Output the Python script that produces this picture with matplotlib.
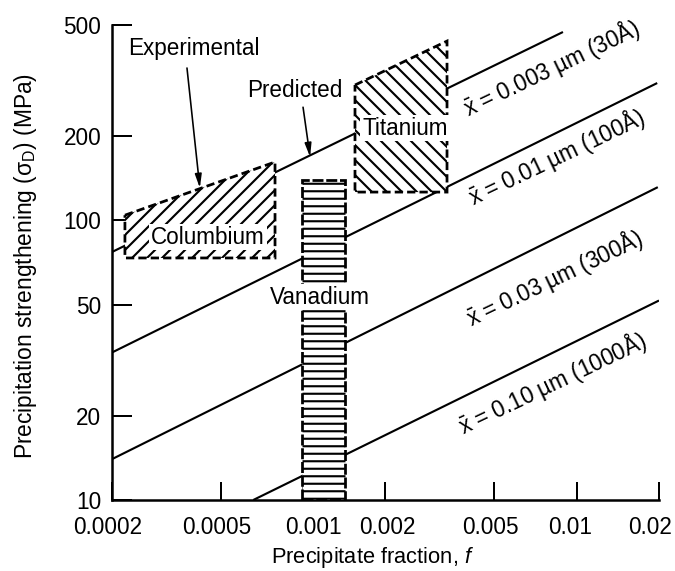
import matplotlib
matplotlib.use('Agg')
import matplotlib.pyplot as plt
from matplotlib.patches import Polygon, Rectangle
from matplotlib.transforms import ScaledTranslation

plt.rcParams['font.family'] = ['Liberation Sans', 'DejaVu Sans']
plt.rcParams['mathtext.fontset'] = 'custom'
plt.rcParams['mathtext.rm'] = 'Liberation Sans'
plt.rcParams['mathtext.it'] = 'Liberation Sans:italic'
plt.rcParams['hatch.linewidth'] = 1.7

# predicted lines (f, MPa)
spacing_labels = ['0.003 µm (30Å)', '0.01 µm (100Å)', '0.03 µm (300Å)', '0.10 µm (1000Å)']
f_start = [0.0002, 0.0002, 0.0002, 0.000657]
s_start = [77.1, 33.7, 14.0, 10.0]
f_end = [0.00891, 0.0197, 0.0198, 0.02]
s_end = [472.0, 310.0, 131.5, 51.7]
label_f = [0.00812, 0.00847, 0.00833, 0.00812]
label_s = [350.8, 168.6, 62.2, 26.2]

# experimental regions
columbium_f = [0.000223, 0.000789, 0.000789, 0.000223]
columbium_s = [104.4, 161.8, 73.4, 73.4]
titanium_f = [0.001547, 0.003357, 0.003357, 0.001547]
titanium_s = [305.0, 438.0, 126.3, 126.3]
vanadium_f = [0.00099, 0.001422]
vanadium_s = [10.0, 139.5]

x_ticks = [0.0002, 0.0005, 0.001, 0.002, 0.005, 0.01, 0.02]
x_tick_labels = ['0.0002', '0.0005', '0.001', '0.002', '0.005', '0.01', '0.02']
y_ticks = [10, 20, 50, 100, 200, 500]
y_tick_labels = ['10', '20', '50', '100', '200', '500']

fig = plt.figure(figsize=(7.5, 571 / 90), dpi=90)
ax = fig.add_axes([112 / 675, 1 - 500 / 571, 547 / 675, 475 / 571])
ax.set_xscale('log')
ax.set_yscale('log')
ax.set_xlim(0.0002, 0.02)
ax.set_ylim(10, 500)

for i in range(len(spacing_labels)):
    ax.plot([f_start[i], f_end[i]], [s_start[i], s_end[i]], 'k-', linewidth=1.7,
            zorder=2, solid_capstyle='butt')
    ax.text(label_f[i], label_s[i], r'$\bar{\mathrm{x}}$ = ' + spacing_labels[i],
            fontsize=18, rotation=25.5, rotation_mode='anchor',
            ha='center', va='center', zorder=5)

col = Polygon(list(zip(columbium_f, columbium_s)), closed=True, facecolor='white',
              edgecolor='black', hatch='//', linewidth=2.2, linestyle=(0, (3, 1.5)), zorder=3)
ax.add_patch(col)
ti = Polygon(list(zip(titanium_f, titanium_s)), closed=True, facecolor='white',
             edgecolor='black', hatch='\\\\', linewidth=2.2, linestyle=(0, (3, 1.5)), zorder=3)
ax.add_patch(ti)
va = Rectangle((vanadium_f[0], vanadium_s[0]), vanadium_f[1] - vanadium_f[0],
               vanadium_s[1] - vanadium_s[0], facecolor='white', edgecolor='black',
               hatch='--', linewidth=2.2, linestyle=(0, (4, 1)), zorder=3)
ax.add_patch(va)

box = dict(facecolor='white', edgecolor='none', pad=1.5)
ax.text(0.000449, 87.2, 'Columbium', fontsize=18, ha='center', va='center', bbox=box, zorder=4)
ax.text(0.002357, 214, 'Titanium', fontsize=18, ha='center', va='center', bbox=box, zorder=4)
ax.text(0.001152, 53.2, 'Vanadium', fontsize=18, ha='center', va='center', bbox=box, zorder=4)

ax.text(0.000397, 413.6, 'Experimental', fontsize=18, ha='center', va='center')
ax.annotate('', xy=(0.000419, 130.6), xytext=(0.000376, 350.8),
            arrowprops=dict(arrowstyle='-|>,head_length=0.9,head_width=0.22',
                            color='black', lw=1.3, shrinkA=0, shrinkB=0))
ax.text(0.000933, 292, 'Predicted', fontsize=18, ha='center', va='center')
ax.annotate('', xy=(0.00106, 168.6), xytext=(0.000999, 254),
            arrowprops=dict(arrowstyle='-|>,head_length=0.9,head_width=0.22',
                            color='black', lw=1.3, shrinkA=0, shrinkB=0))

ax.spines['top'].set_visible(False)
ax.spines['right'].set_visible(False)
ax.spines['left'].set_linewidth(2)
ax.spines['bottom'].set_linewidth(2)

ax.set_xticks(x_ticks)
ax.set_xticklabels(x_tick_labels)
ax.set_yticks(y_ticks)
ax.set_yticklabels(y_tick_labels)
ax.minorticks_off()
ax.tick_params(axis='both', direction='in', width=1.6, labelsize=18)
ax.tick_params(axis='x', length=14.4, pad=12.5)
ax.tick_params(axis='y', length=16, pad=8.5)

# the printed x labels sit slightly off their ticks
label_shift_px = [-4, -4, 10, 2, -4, -7, -9]
for lab, dx in zip(ax.get_xticklabels(), label_shift_px):
    lab.set_transform(lab.get_transform() + ScaledTranslation(dx / 90, 0, fig.dpi_scale_trans))

ax.set_xlabel('Precipitate fraction, $\\it{f}$', fontsize=17.5, va='center')
ax.xaxis.set_label_coords(0.477, -0.12)
ax.set_ylabel('Precipitation strengthening (σ$_{\\rm D}$) (MPa)', fontsize=18.2,
              va='center')
ax.yaxis.set_label_coords(-0.158, 0.493)

fig.savefig('out.png', dpi=90)
